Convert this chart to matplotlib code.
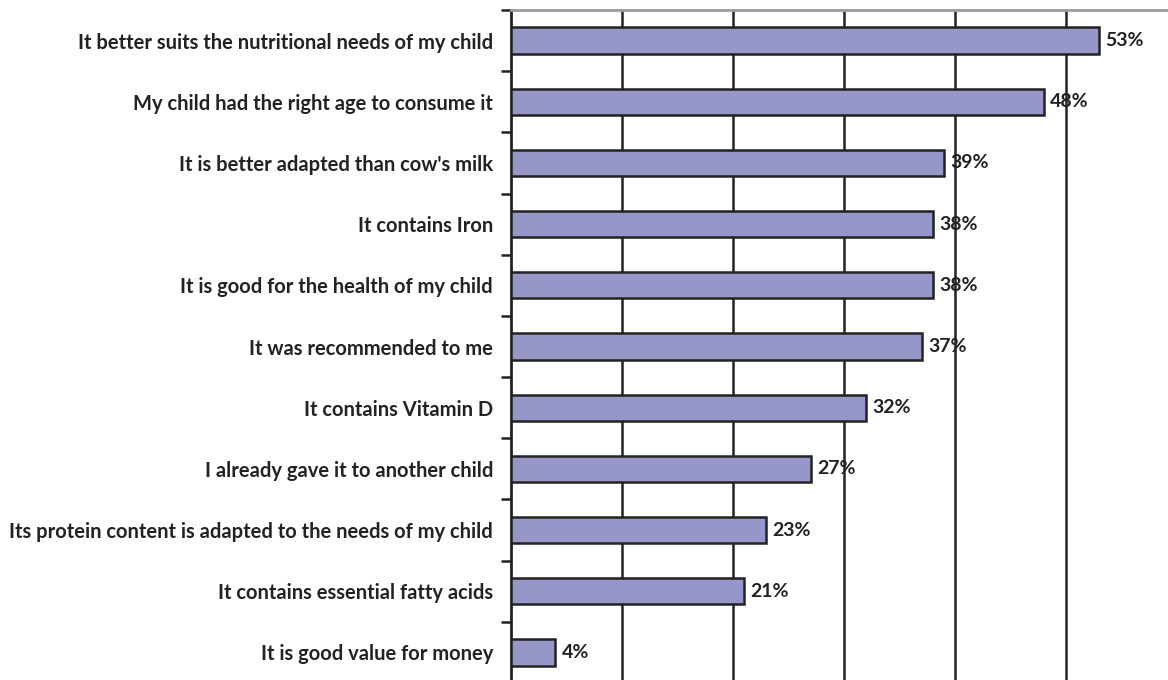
import matplotlib
matplotlib.use("Agg")
import matplotlib.pyplot as plt
import numpy as np

# reasons and share of respondents (%)
reasons = [
    "It better suits the nutritional needs of my child",
    "My child had the right age to consume it",
    "It is better adapted than cow's milk",
    "It contains Iron",
    "It is good for the health of my child",
    "It was recommended to me",
    "It contains Vitamin D",
    "I already gave it to another child",
    "Its protein content is adapted to the needs of my child",
    "It contains essential fatty acids",
    "It is good value for money",
]
values = [53, 48, 39, 38, 38, 37, 32, 27, 23, 21, 4]

plt.rcParams['font.family'] = ['Lato', 'DejaVu Sans']

fig = plt.figure(figsize=(11.68, 6.8), dpi=100)
ax = fig.add_axes([511 / 1168, -0.0, 1 - 511 / 1168, 1 - 10 / 680])

ypos = np.arange(len(reasons))
ax.barh(ypos, values, height=0.43, color="#9696c8", edgecolor="#222222",
        linewidth=1.8, zorder=3)

for y, v in zip(ypos, values):
    ax.annotate(f"{v}%", (v, y), xytext=(4.5, 0), textcoords="offset points",
                va="center", ha="left", fontsize=14, fontweight="bold",
                color="#222222", zorder=4)

ax.set_xlim(0, (1168 - 511) / 11.1)
ax.set_ylim(len(reasons) - 0.55, -0.5)

# vertical grid lines every 10%
ax.set_xticks([10, 20, 30, 40, 50])
ax.xaxis.grid(True, color="#222222", linewidth=1.8)
ax.set_axisbelow(True)
ax.tick_params(axis="x", length=0, labelbottom=False)

# tick marks between categories, labels at bar centres
ax.set_yticks(np.arange(-0.5, len(reasons) - 0.5, 1.0))
ax.set_yticklabels([])
ax.tick_params(axis="y", which="major", length=7, width=1.8, color="#222222",
               direction="out")
ax.set_yticks(ypos, minor=True)
ax.set_yticklabels(reasons, minor=True, fontsize=14.5, fontweight="bold",
                   color="#222222")
ax.tick_params(axis="y", which="minor", length=0, pad=13)

ax.spines["left"].set_color("#222222")
ax.spines["left"].set_linewidth(2)
ax.spines["top"].set_color("#999999")
ax.spines["top"].set_linewidth(2)
ax.spines["right"].set_visible(False)
ax.spines["bottom"].set_visible(False)

fig.savefig("out.png", dpi=100)
